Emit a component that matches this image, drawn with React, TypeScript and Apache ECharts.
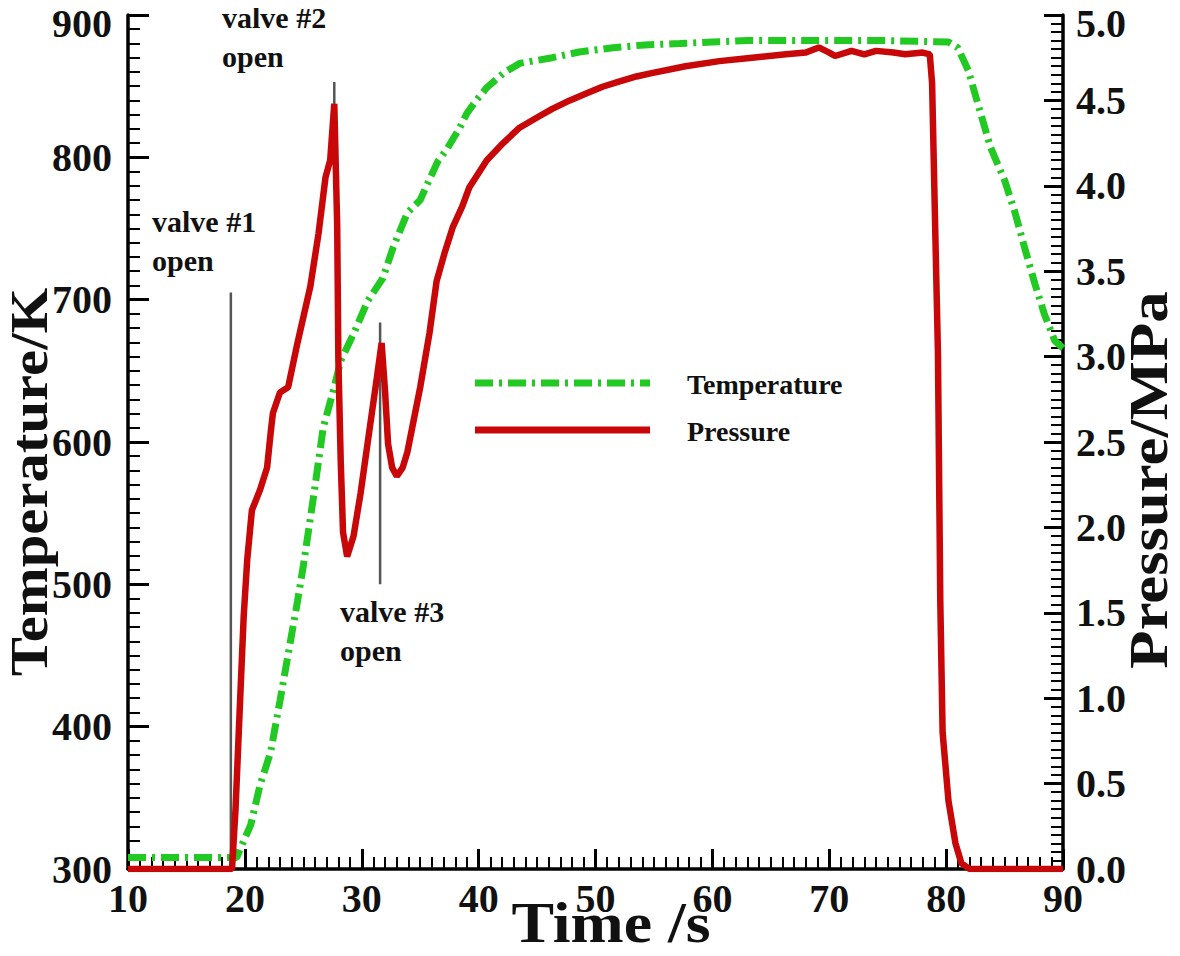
import React, { useEffect, useRef } from "react";
import * as echarts from "echarts";

// Temperature trace (time in s, temperature in K) – left axis
const timeTemp = [
  10, 19.3, 19.6, 20.5, 21.3, 22.2, 23.0, 23.6, 24.5, 25.0, 25.9, 26.7, 27.5, 28.2, 29.3, 30.5,
  31.8, 32.7, 33.9, 35.0, 35.6, 36.5, 37.3, 38.4, 39.0, 39.8, 40.7, 42.1, 43.5, 46.3, 48.6, 51.5,
  54.2, 57.2, 60, 63, 70, 75, 80.2, 81.0, 81.9, 82.7, 83.8, 85.0, 85.9, 86.7, 87.6, 88.4, 89.3, 90,
];
const temperatureK = [
  308, 308, 314, 331, 359, 382, 418, 446, 488, 513, 563, 610, 634, 657, 676, 699,
  715, 737, 761, 770, 781, 797, 806, 821, 831, 840, 849, 859, 866, 870, 874, 877,
  879, 880, 881, 882, 882, 882, 881, 877, 861, 838, 807, 784, 761, 737, 711, 690, 671, 666,
];

// Pressure trace (time in s, pressure in MPa) – right axis
const timePressure = [
  10, 18.9, 19.2, 19.6, 19.9, 20.2, 20.6, 21.3, 21.9, 22.2, 22.4, 23.0, 23.7, 24.5, 25.6, 26.3,
  26.9, 27.3, 27.65, 27.9, 28.0, 28.2, 28.4, 28.75, 29.3, 29.9, 30.7, 31.3, 31.7, 32.0, 32.25, 32.6,
  33.0, 33.5, 33.9, 35.0, 35.8, 36.4, 37.1, 37.8, 38.6, 39.2, 40.7, 42.1, 43.5, 45.0, 46.3, 47.8,
  49.2, 50.6, 52.0, 53.5, 54.8, 57.7, 60.6, 63.4, 66.3, 68.0, 69.1, 70.0, 70.5, 71.9, 73.0, 74.0,
  75.5, 76.5, 78.0, 78.6, 78.8, 79.05, 79.3, 79.5, 79.7, 80.2, 80.8, 81.3, 82, 90,
];
const pressureMPa = [
  0, 0, 0.35, 1.0, 1.48, 1.81, 2.1, 2.22, 2.35, 2.55, 2.67, 2.79, 2.82, 3.08, 3.41, 3.72,
  4.05, 4.15, 4.48, 3.76, 2.98, 2.39, 1.97, 1.83, 1.95, 2.2, 2.59, 2.88, 3.08, 2.79, 2.49, 2.35,
  2.3, 2.35, 2.44, 2.82, 3.14, 3.44, 3.61, 3.76, 3.88, 3.99, 4.15, 4.25, 4.34, 4.4, 4.45, 4.5,
  4.54, 4.58, 4.61, 4.64, 4.66, 4.7, 4.73, 4.75, 4.77, 4.78, 4.81, 4.78, 4.76, 4.79, 4.77, 4.79,
  4.78, 4.77, 4.78, 4.77, 4.6, 3.8, 3.02, 1.57, 0.8, 0.4, 0.15, 0.035, 0, 0,
];

// Valve opening markers (time, temperature span on left axis)
const valveTimes = [18.8, 27.65, 31.57];
const valveLow = [300, 825, 500];
const valveHigh = [705, 853, 684];
const valveLabels = ["valve #1\nopen", "valve #2\nopen", "valve #3\nopen"];

const seriesNames = ["Temperature", "Pressure"];
const axisTitles = ["Time /s", "Temperature/K", "Pressure/MPa"];

const GREEN = "#22c922";
const RED = "#c80808";
const FONT = '"Liberation Serif", "Times New Roman", serif';

export default function App() {
  const ref = useRef<HTMLDivElement>(null);

  useEffect(() => {
    if (!ref.current) return;
    const chart = echarts.init(ref.current, undefined, { renderer: "svg" });

    const tickLabel = {
      fontFamily: FONT,
      fontWeight: "bold" as const,
      fontSize: 40,
      color: "#111",
    };
    // the top-most y labels are nudged down slightly so they stay inside the canvas
    const topRich = { t: { ...tickLabel, padding: [16, 0, 0, 0] } };

    const valveSeries = valveTimes.map((t, i) => ({
      name: "valve" + (i + 1),
      type: "line",
      yAxisIndex: 0,
      symbol: "none",
      silent: true,
      lineStyle: { color: "#555", width: 2.5 },
      data: [
        [t, valveLow[i]],
        [t, valveHigh[i]],
      ],
    }));

    const labelPos = [
      [152, 202],
      [222, -2],
      [340, 592],
    ];

    const titleStyle = (text: string, size: number) => ({
      text,
      fontFamily: FONT,
      fontWeight: "bold",
      fontSize: size,
      fill: "#111",
      align: "center",
      verticalAlign: "middle",
      textAlign: "center",
      textVerticalAlign: "middle",
    });

    const option: any = {
      animation: false,
      backgroundColor: "#fff",
      grid: { left: 128, right: 117, top: 15, bottom: 87, containLabel: false },
      xAxis: {
        type: "value",
        min: 10,
        max: 90,
        interval: 10,
        axisLine: { lineStyle: { color: "#000", width: 3.5 } },
        axisTick: { inside: true, length: 20, lineStyle: { color: "#000", width: 3 } },
        minorTick: { show: true, splitNumber: 10, length: 12, lineStyle: { color: "#000", width: 2 } },
        splitLine: { show: false },
        axisLabel: { ...tickLabel, margin: 9 },
      },
      yAxis: [
        {
          type: "value",
          position: "left",
          min: 300,
          max: 900,
          interval: 100,
          axisLine: { show: true, lineStyle: { color: "#000", width: 3.5 } },
          axisTick: { show: true, inside: true, length: 21, lineStyle: { color: "#000", width: 3 } },
          minorTick: { show: true, splitNumber: 10, length: 12, lineStyle: { color: "#000", width: 2 } },
          splitLine: { show: false },
          axisLabel: {
            ...tickLabel,
            margin: 16,
            formatter: (v: number) => (v === 900 ? "{t|" + v + "}" : String(v)),
            rich: topRich,
          },
        },
        {
          type: "value",
          position: "right",
          min: 0,
          max: 5,
          interval: 0.5,
          axisLine: { show: true, lineStyle: { color: "#000", width: 3.5 } },
          axisTick: { show: true, inside: true, length: 19, lineStyle: { color: "#000", width: 3 } },
          minorTick: { show: true, splitNumber: 10, length: 12, lineStyle: { color: "#000", width: 2 } },
          splitLine: { show: false },
          axisLabel: {
            ...tickLabel,
            margin: 13,
            formatter: (v: number) => (v === 5 ? "{t|" + v.toFixed(1) + "}" : v.toFixed(1)),
            rich: topRich,
          },
        },
      ],
      series: [
        {
          name: seriesNames[0],
          type: "line",
          yAxisIndex: 0,
          symbol: "none",
          lineStyle: { color: GREEN, width: 7, type: [18, 6, 3, 6] },
          data: timeTemp.map((t, i) => [t, temperatureK[i]]),
        },
        ...valveSeries,
        {
          name: seriesNames[1],
          type: "line",
          yAxisIndex: 1,
          symbol: "none",
          lineStyle: { color: RED, width: 6.5 },
          data: timePressure.map((t, i) => [t, pressureMPa[i]]),
        },
      ],
      graphic: [
        // axis titles
        {
          type: "text",
          x: 611,
          y: 923,
          scaleX: 1.14,
          style: titleStyle(axisTitles[0], 56),
        },
        {
          type: "text",
          x: 30,
          y: 482,
          rotation: Math.PI / 2,
          scaleX: 1.13,
          style: titleStyle(axisTitles[1], 52),
        },
        {
          type: "text",
          x: 1148,
          y: 480,
          rotation: Math.PI / 2,
          scaleX: 1.12,
          style: titleStyle(axisTitles[2], 56),
        },
        // valve annotations
        ...valveLabels.map((txt, i) => ({
          type: "text",
          x: labelPos[i][0],
          y: labelPos[i][1],
          style: {
            text: txt,
            fontFamily: FONT,
            fontWeight: "bold",
            fontSize: 30,
            lineHeight: 39,
            fill: "#111",
            align: "left",
            verticalAlign: "top",
            textAlign: "left",
            textVerticalAlign: "top",
          },
        })),
        // legend
        {
          type: "line",
          shape: { x1: 475, y1: 383, x2: 650, y2: 383 },
          style: { stroke: GREEN, lineWidth: 7, lineDash: [18, 6, 3, 6] },
        },
        {
          type: "line",
          shape: { x1: 475, y1: 430, x2: 650, y2: 430 },
          style: { stroke: RED, lineWidth: 7 },
        },
        {
          type: "text",
          x: 687,
          y: 384,
          style: {
            text: seriesNames[0],
            fontFamily: FONT,
            fontWeight: "bold",
            fontSize: 28,
            fill: "#111",
            align: "left",
            verticalAlign: "middle",
            textAlign: "left",
            textVerticalAlign: "middle",
          },
        },
        {
          type: "text",
          x: 687,
          y: 431,
          style: {
            text: seriesNames[1],
            fontFamily: FONT,
            fontWeight: "bold",
            fontSize: 28,
            fill: "#111",
            align: "left",
            verticalAlign: "middle",
            textAlign: "left",
            textVerticalAlign: "middle",
          },
        },
      ],
    };

    chart.setOption(option);
    return () => chart.dispose();
  }, []);

  return <div ref={ref} style={{ width: 1180, height: 956, marginLeft: -8, marginTop: -8 }} />;
}
